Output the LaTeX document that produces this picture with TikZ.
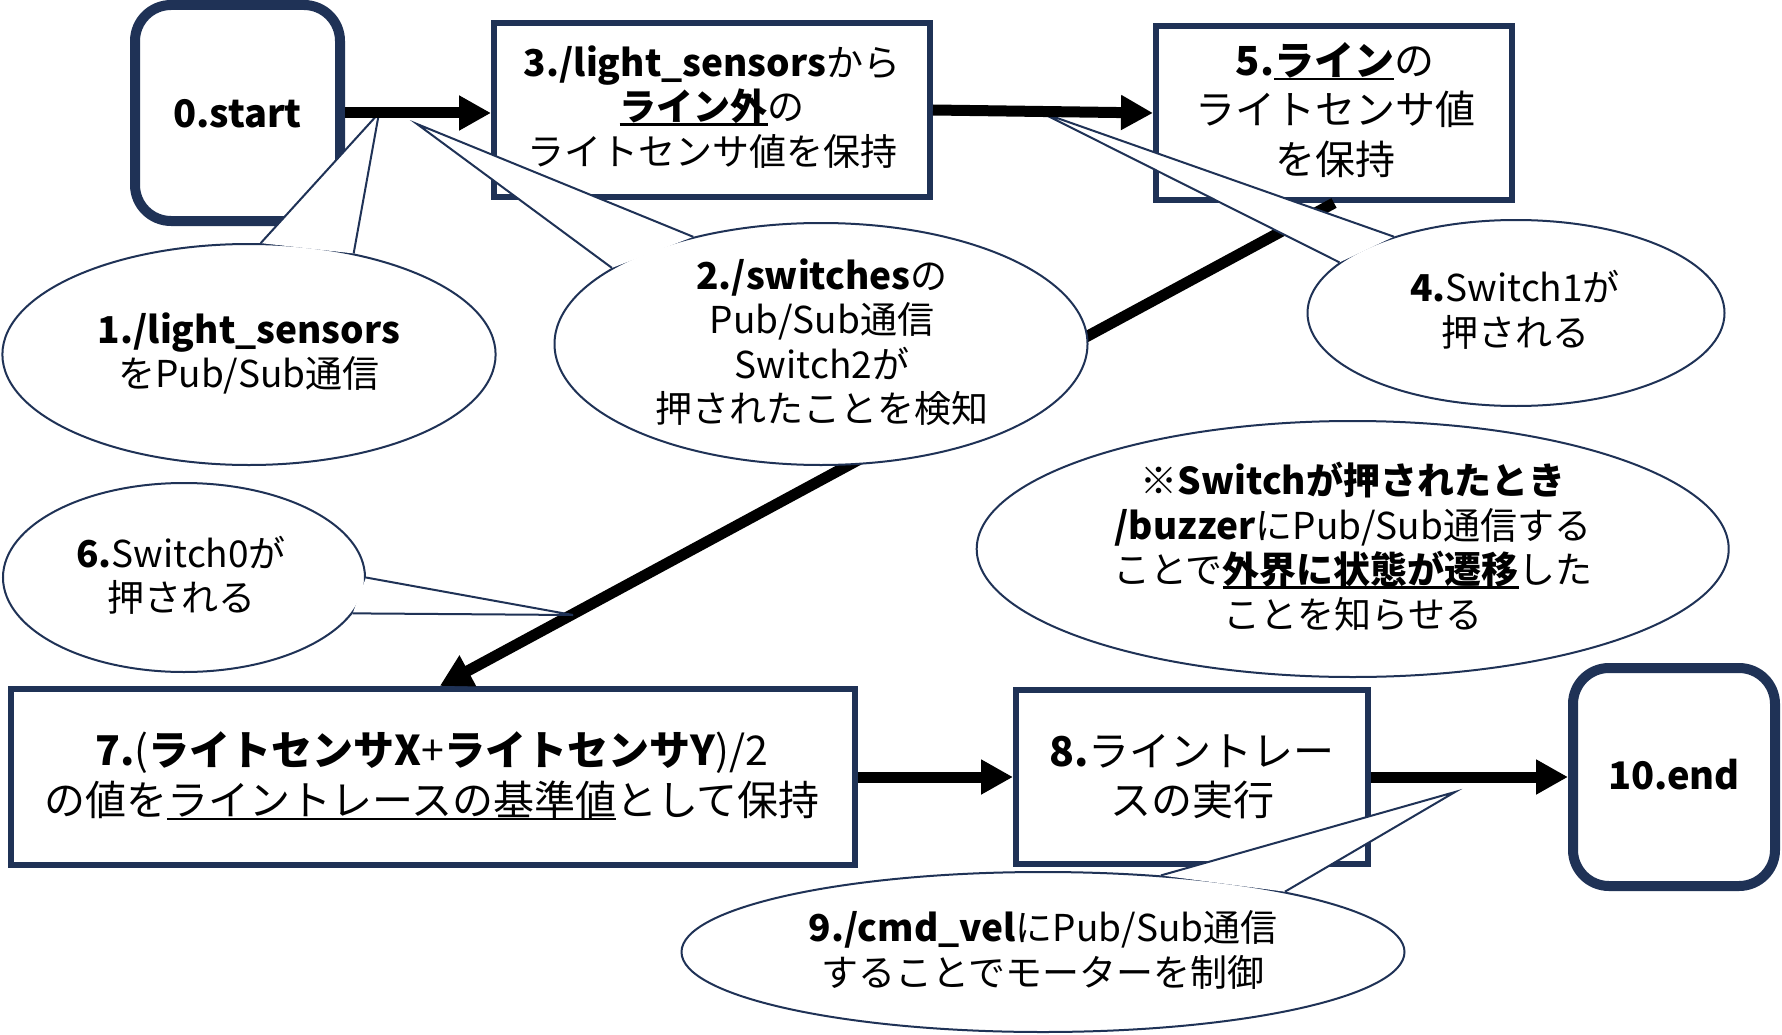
\documentclass[tikz,border=0pt]{standalone}
\usepackage{fontspec}
\setmainfont{Noto Sans CJK JP}
\usetikzlibrary{arrows.meta,shapes.geometric,calc}
\definecolor{navy}{HTML}{1F3256}
\newsavebox\ulbox
\newcommand\ulx[1]{\sbox\ulbox{#1}\rlap{\rule[-0.13em]{\wd\ulbox}{0.07em}}\usebox\ulbox}
\newcommand\js{\rule[-0.12em]{0pt}{1em}}
\begin{document}
\begin{tikzpicture}[x=1pt,y=-1pt,
  boxr/.style={draw=navy,line width=6pt,rectangle,inner sep=0pt,fill=white},
  boxround/.style={draw=navy,line width=10pt,rectangle,rounded corners=36pt,inner sep=0pt,fill=white},
  bubble/.style={draw=navy,line width=2pt,ellipse,fill=white,inner sep=0pt},
  ptr/.style={draw=navy,line width=2pt,line join=miter},
  flow/.style={line width=11pt,-{Triangle[length=32pt,width=33pt]}},
  txt/.style={inner sep=0pt,align=center,text=black},
  fa/.style={font=\fontsize{37}{44.5}\selectfont},
  fb/.style={font=\fontsize{41}{49.5}\selectfont},
  fc/.style={font=\fontsize{38}{44}\selectfont\bfseries}]
\useasboundingbox (0,0) rectangle (1782,1035);
\fill[white] (0,0) rectangle (1782,1035);
% boxes
\node[boxround, minimum width=205, minimum height=216] (b0) at (237.5,113) {};
\node[boxr, minimum width=436, minimum height=174.5] (b3) at (712,110) {};
\node[boxr, minimum width=356, minimum height=174] (b5) at (1334,113) {};
\node[boxr, minimum width=844.5, minimum height=176] (b7) at (432.75,777) {};
\node[boxr, minimum width=352, minimum height=174] (b8) at (1192,777) {};
\node[boxround, minimum width=202, minimum height=218] (b10) at (1674,777) {};
% long diagonal arrow (under callouts)
\coordinate (b7in) at ($(b7.north)+(7,0)$);
\draw[flow] (b5.south) -- (b7in);
% callouts
\node[bubble, minimum width=493.2, minimum height=221] (e1) at (249,354.5) {};
\coordinate (c1tip) at (379,113);
\fill[white] (e1.84) -- (c1tip) -- (e1.44) -- cycle;
\draw[ptr] (e1.84) -- (c1tip) -- (e1.44);

\node[bubble, minimum width=533, minimum height=242] (e2) at (821,344) {};
\coordinate (c2tip) at (417,124);
\fill[white] (e2.160) -- (c2tip) -- (e2.140) -- cycle;
\draw[ptr] (e2.160) -- (c2tip) -- (e2.140);

\node[bubble, minimum width=417, minimum height=186] (e4) at (1516,313) {};
\coordinate (c4tip) at (1040,112);
\fill[white] (e4.148) -- (c4tip) -- (e4.164) -- cycle;
\draw[ptr] (e4.148) -- (c4tip) -- (e4.164);

\node[bubble, minimum width=752, minimum height=256] (eS) at (1352.7,549) {};

\node[bubble, minimum width=362, minimum height=189] (e6) at (184,577.5) {};
\coordinate (c6tip) at (573,615);
\fill[white] (e6.0) -- (c6tip) -- (e6.348) -- cycle;
\draw[ptr] (e6.0) -- (c6tip) -- (e6.348);

\node[bubble, minimum width=723, minimum height=160] (e9) at (1043,952) {};
\coordinate (c9tip) at (1455,792);
\fill[white] (e9.33) -- (c9tip) -- (e9.14) -- cycle;
\draw[ptr] (e9.33) -- (c9tip) -- (e9.14);
% horizontal arrows
\draw[flow] (b0.east) -- (b0.east -| b3.west);
\draw[flow] (b3.east) -- (b5.west);
\draw[flow] (b7.east) -- (b8.west);
\draw[flow] (b8.east) -- (b10.west);
% texts
\node[txt, fc] (t0) at (237.5,113) {\js 0.start};
\node[txt, fc] (t10) at (1674,775) {\js 10.end};
\node[txt, fa] (t3) at (712,106.75) {\js\textbf{3./light\_sensors}から\\\js\ulx{\textbf{ライン外}}の\\\js ライトセンサ値を保持};
\node[txt, font=\fontsize{40}{49.5}\selectfont] (t5) at (1335,109.5) {\js\textbf{5.}\ulx{\textbf{ライン}}の\\\js ライトセンサ値\\\js を保持};
\node[txt, fa] (t1) at (249,352.5) {\js\textbf{1./light\_sensors}\\\js をPub/Sub通信};
\node[txt, fa] (t2) at (822,342) {\js\textbf{2./switches}の\\\js Pub/Sub通信\\\js Switch2が\\\js 押されたことを検知};
\node[txt, fa] (t4) at (1515,310) {\js\textbf{4.}Switch1が\\\js 押される};
\node[txt, fa] (tS) at (1353,547.5) {\js\textbf{※Switchが押されたとき}\\\js\textbf{/buzzer}にPub/Sub通信する\\\js ことで\ulx{\textbf{外界に状態が遷移}}した\\\js ことを知らせる};
\node[txt, fa] (t6) at (181,575.5) {\js\textbf{6.}Switch0が\\\js 押される};
\node[txt, fb] (t7) at (432,775) {\js\textbf{7.}(\textbf{ライトセンサX}+\textbf{ライトセンサY})/2\\\js の値を\ulx{ライントレースの基準値}として保持};
\node[txt, fb] (t8) at (1192,775.5) {\js\textbf{8.}ライントレー\\\js スの実行};
\node[txt, fa] (t9) at (1043,950) {\js\textbf{9./cmd\_vel}にPub/Sub通信\\\js することでモーターを制御};
\end{tikzpicture}
\end{document}
